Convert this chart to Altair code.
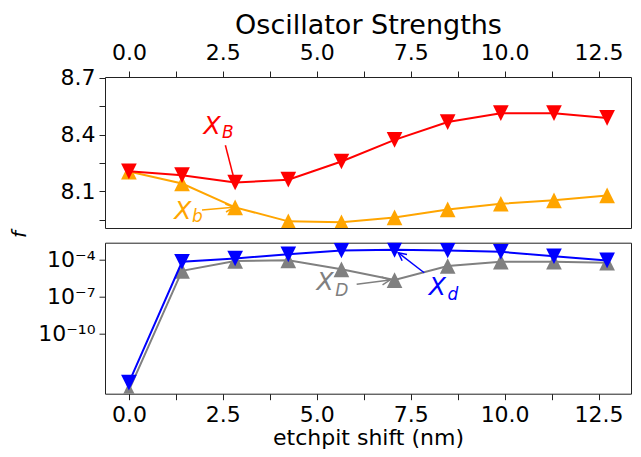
import json
import altair as alt
import pandas as pd

# ---------------- data ----------------
shift_nm = [0.0, 1.414, 2.828, 4.243, 5.657, 7.071, 8.485, 9.899, 11.314, 12.728]

f_XB = [8.206, 8.186, 8.147, 8.162, 8.258, 8.372, 8.466, 8.513, 8.513, 8.488]
f_Xb = [8.205, 8.142, 8.016, 7.942, 7.937, 7.963, 8.005, 8.035, 8.053, 8.079]

f_Xd = [1.07e-14, 6.8e-5, 1.26e-4, 2.75e-4, 5.6e-4, 6.3e-4, 5.6e-4, 4.4e-4, 1.9e-4, 8.7e-5]
f_XD = [2.5e-15, 1.26e-5, 7.9e-5, 8.9e-5, 1.66e-5, 2.24e-6, 3.1e-5, 6.8e-5, 6.8e-5, 5.75e-5]

x_ticks = [0.0, 1.25, 2.5, 3.75, 5.0, 6.25, 7.5, 8.75, 10.0, 11.25, 12.5]
x_labels = ["0.0", "2.5", "5.0", "7.5", "10.0", "12.5"]
top_y_ticks = [7.95, 8.1, 8.25, 8.4, 8.55, 8.7]
top_y_labels = ["8.1", "8.4", "8.7"]
bot_y_ticks = [1e-10, 1e-7, 1e-4]
bot_y_labels = ["10\u207b\u00b9\u2070", "10\u207b\u2077", "10\u207b\u2074"]

# annotations (data coordinates)
ann_top_main = ["X", "X"]
ann_top_sub = ["B", "b"]
ann_top_color = ["#ff0000", "#ffa500"]
ann_top_tx = [2.212, 1.434]
ann_top_ty = [8.405, 7.955]
ann_top_sx = [2.477, 1.681]
ann_top_sy = [8.384, 7.937]
ann_top_ax = [2.568, 1.946]
ann_top_ay = [8.344, 8.002]
ann_top_bx = [2.833, 2.788]
ann_top_by = [8.139, 8.016]
ann_top_angle = [165.6, 85.3]

ann_bot_main = ["X", "X"]
ann_bot_sub = ["D", "d"]
ann_bot_color = ["#808080", "#0000ff"]
ann_bot_tx = [5.223, 8.210]
ann_bot_ty = [3.3e-7, 1.3e-7]
ann_bot_sx = [5.489, 8.478]
ann_bot_sy = [1.15e-7, 5.4e-8]
ann_bot_ax = [6.062, 7.860]
ann_bot_ay = [1.01e-6, 8.8e-6]
ann_bot_bx = [6.949, 7.169]
ann_bot_by = [2.26e-6, 3.7e-4]
ann_bot_angle = [82.7, 307.6]

# ---------------- styling ----------------
FONT = "DejaVu Sans"
X_DOMAIN = [-0.636, 13.364]
TOP_DOMAIN = [7.907, 8.704]
BOT_DOMAIN = [1.35e-15, 2.4e-3]
W, H = 526, 151
TRI_DOWN = "M-1,-1L1,-1L0,1Z"
TRI_UP = "M0,-1L-1,1L1,1Z"
HEAD = "M-0.5,1L0,0L0.5,1"
MSIZE = 246

x_label_expr = "indexof(%s, format(datum.value, '.1f')) >= 0 && abs(datum.value / 2.5 - round(datum.value / 2.5)) < 0.001 ? format(datum.value, '.1f') : ''" % json.dumps(x_labels)
top_y_label_expr = "indexof(%s, format(datum.value, '.1f')) >= 0 ? format(datum.value, '.1f') : ''" % json.dumps(top_y_labels)
bot_y_label_expr = "datum.value > 1e-5 ? '%s' : (datum.value > 1e-8 ? '%s' : '%s')" % (
    bot_y_labels[2], bot_y_labels[1], bot_y_labels[0])

common_axis = dict(domain=False, grid=False, tickSize=6, tickColor="#222", tickWidth=1,
                   labelFontSize=22, labelColor="black", labelFlush=False, labelOverlap=False,
                   titleColor="black", titleFontWeight="normal")

x_top_axis = alt.Axis(orient="top", values=x_ticks, labelExpr=x_label_expr,
                      title="Oscillator Strengths", titleFontSize=27, titlePadding=2,
                      labelPadding=7, **common_axis)
x_bot_axis = alt.Axis(orient="bottom", values=x_ticks, labelExpr=x_label_expr,
                      title="etchpit shift (nm)", titleFontSize=22, titlePadding=2,
                      labelPadding=5, **common_axis)
y_top_axis = alt.Axis(values=top_y_ticks, labelExpr=top_y_label_expr, title="f",
                      titleFontStyle="italic", titleFontSize=20, titleAngle=270,
                      titleX=-76, titleY=157, titleAlign="center", titleBaseline="bottom",
                      labelPadding=4, **common_axis)
y_bot_axis = alt.Axis(values=bot_y_ticks, labelExpr=bot_y_label_expr, title=None,
                      labelPadding=4, **common_axis)


def xe(axis, field="x"):
    return alt.X(f"{field}:Q", scale=alt.Scale(domain=X_DOMAIN, nice=False, zero=False), axis=axis)


def panel(series, x_axis, y_axis, yscale, ann):
    layers = []
    ye = lambda f="y": alt.Y(f"{f}:Q", scale=yscale, axis=y_axis)
    for vals, color, shape in series:
        df = pd.DataFrame({"x": shift_nm, "y": vals})
        base = alt.Chart(df)
        layers.append(base.mark_line(color=color, strokeWidth=2, clip=True).encode(x=xe(x_axis), y=ye()))
        layers.append(base.mark_point(shape=shape, filled=True, size=MSIZE, opacity=1, color=color,
                                      clip=True).encode(x=xe(x_axis), y=ye()))
    main, sub, col, tx, ty, sx, sy, ax, ay, bx, by, ang = ann
    adf = pd.DataFrame({"main": main, "sub": sub, "color": col, "x": tx, "y": ty,
                        "sx": sx, "sy": sy, "ax": ax, "ay": ay, "bx": bx, "by": by, "ang": ang})
    abase = alt.Chart(adf)
    layers.append(abase.mark_text(font=FONT, fontStyle="italic", fontSize=25, align="center",
                                  baseline="alphabetic").encode(
        x=xe(x_axis), y=ye(), text="main:N", color=alt.Color("color:N", scale=None)))
    layers.append(abase.mark_text(font=FONT, fontStyle="italic", fontSize=17, align="left",
                                  baseline="alphabetic").encode(
        x=xe(x_axis, "sx"), y=ye("sy"), text="sub:N", color=alt.Color("color:N", scale=None)))
    layers.append(abase.mark_rule(strokeWidth=1.5).encode(
        x=xe(x_axis, "ax"), y=ye("ay"), x2="bx:Q", y2="by:Q", color=alt.Color("color:N", scale=None)))
    layers.append(abase.mark_point(shape=HEAD, filled=False, size=256, strokeWidth=1.5, opacity=1).encode(
        x=xe(x_axis, "bx"), y=ye("by"), angle=alt.Angle("ang:Q", scale=None),
        color=alt.Color("color:N", scale=None)))
    return alt.layer(*layers).properties(width=W, height=H)


top = panel([(f_Xb, "#ffa500", TRI_UP), (f_XB, "#ff0000", TRI_DOWN)],
            x_top_axis, y_top_axis, alt.Scale(domain=TOP_DOMAIN, nice=False, zero=False),
            [ann_top_main, ann_top_sub, ann_top_color, ann_top_tx, ann_top_ty, ann_top_sx,
             ann_top_sy, ann_top_ax, ann_top_ay, ann_top_bx, ann_top_by, ann_top_angle])

bottom = panel([(f_XD, "#808080", TRI_UP), (f_Xd, "#0000ff", TRI_DOWN)],
               x_bot_axis, y_bot_axis, alt.Scale(type="log", domain=BOT_DOMAIN, nice=False),
               [ann_bot_main, ann_bot_sub, ann_bot_color, ann_bot_tx, ann_bot_ty, ann_bot_sx,
                ann_bot_sy, ann_bot_ax, ann_bot_ay, ann_bot_bx, ann_bot_by, ann_bot_angle])

chart = alt.vconcat(top, bottom, spacing=14.7, bounds="flush").properties(
    padding={"left": 0, "top": 2, "right": 0, "bottom": 0}
).configure_view(stroke="#222", strokeWidth=1).configure_axis(
    labelFont=FONT, titleFont=FONT
).configure_text(font=FONT)

chart.save("out.html", embed_options={"renderer": "svg", "actions": False})
